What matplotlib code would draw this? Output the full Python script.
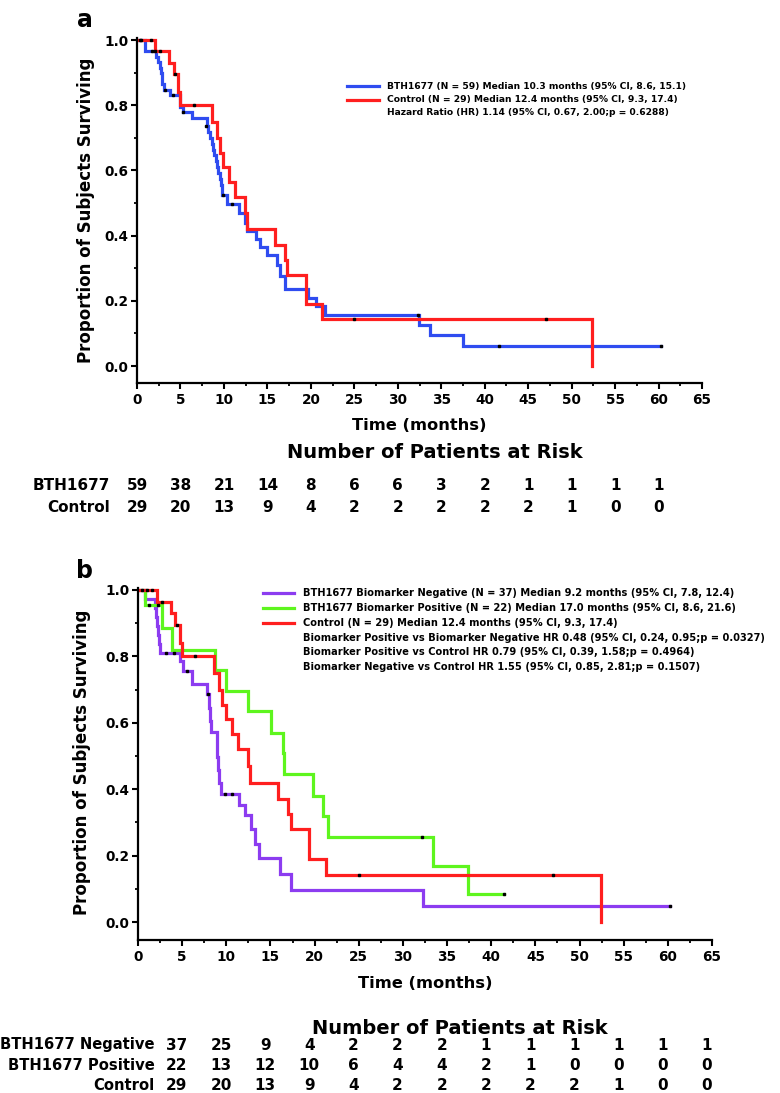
import matplotlib
matplotlib.use("Agg")
import matplotlib.pyplot as plt
import matplotlib.transforms as mtransforms
from matplotlib.ticker import MultipleLocator, FormatStrFormatter

plt.rcParams["font.family"] = ["DejaVu Sans"]
plt.rcParams["font.weight"] = "bold"

# ---- survival curves (months, proportion surviving) ----
all_t = [0, 0.9, 2.2, 2.4, 2.6, 2.75, 2.9, 3.05, 3.8, 5.0, 5.3, 6.3, 8.0, 8.2, 8.4, 8.6,
         8.75, 8.9, 9.05, 9.2, 9.35, 9.5, 9.65, 9.8, 10.3, 11.7, 12.4, 12.6, 13.7, 14.2,
         15.0, 16.1, 16.5, 17.0, 19.7, 20.6, 21.6, 32.4, 33.7, 37.5, 60.3]
all_s = [1.0, 0.966, 0.949, 0.932, 0.915, 0.898, 0.864, 0.847, 0.83, 0.795, 0.778, 0.76,
         0.735, 0.717, 0.70, 0.682, 0.664, 0.646, 0.628, 0.61, 0.592, 0.574, 0.556, 0.525,
         0.497, 0.468, 0.44, 0.413, 0.39, 0.365, 0.34, 0.31, 0.275, 0.235, 0.21, 0.185,
         0.157, 0.126, 0.094, 0.063, 0.063]
all_cens_t = [0.35, 0.5, 1.7, 2.1, 3.2, 4.1, 5.3, 7.9, 9.9, 10.9, 32.3, 41.7, 60.3]
all_cens_s = [1.0, 1.0, 0.966, 0.966, 0.847, 0.83, 0.778, 0.735, 0.525, 0.497, 0.157, 0.063, 0.063]

ctl_t = [0, 2.1, 3.7, 4.2, 4.7, 5.0, 8.6, 9.2, 9.55, 9.95, 10.6, 11.3, 12.4, 12.7,
         15.9, 17.0, 17.3, 19.4, 21.3, 52.4]
ctl_s = [1.0, 0.965, 0.93, 0.895, 0.84, 0.80, 0.75, 0.70, 0.655, 0.61, 0.565, 0.52,
         0.47, 0.42, 0.37, 0.325, 0.28, 0.19, 0.143, 0.0]
ctl_cens_t = [1.6, 2.7, 4.4, 6.5, 25.0, 47.0]
ctl_cens_s = [1.0, 0.965, 0.895, 0.80, 0.143, 0.143]

neg_t = [0, 0.8, 1.9, 2.0, 2.1, 2.25, 2.4, 2.5, 4.75, 5.1, 6.1, 7.8, 8.0, 8.1, 8.3,
         8.9, 9.0, 9.1, 9.2, 9.4, 11.4, 12.1, 12.8, 13.2, 13.65, 16.1, 17.3, 32.3, 60.3]
neg_s = [1.0, 0.973, 0.946, 0.919, 0.892, 0.865, 0.838, 0.811, 0.785, 0.757, 0.717,
         0.687, 0.645, 0.606, 0.571, 0.535, 0.496, 0.457, 0.418, 0.386, 0.354, 0.322,
         0.28, 0.235, 0.193, 0.145, 0.096, 0.048, 0.048]
neg_cens_t = [0.4, 1.0, 3.2, 4.05, 5.5, 7.9, 9.9, 10.7, 60.3]
neg_cens_s = [1.0, 1.0, 0.811, 0.811, 0.757, 0.687, 0.386, 0.386, 0.048]

pos_t = [0, 0.8, 2.7, 3.8, 8.7, 10.0, 12.5, 15.1, 16.4, 16.5, 19.8, 20.9, 21.5, 33.4,
         37.4, 41.4]
pos_s = [1.0, 0.955, 0.886, 0.82, 0.76, 0.697, 0.635, 0.57, 0.508, 0.446, 0.38, 0.32,
         0.255, 0.17, 0.085, 0.085]
pos_cens_t = [1.2, 2.3, 32.2, 41.4]
pos_cens_s = [0.955, 0.955, 0.255, 0.085]

# ---- number at risk tables ----
risk_times = [0, 5, 10, 15, 20, 25, 30, 35, 40, 45, 50, 55, 60]
risk_a = {"BTH1677": [59, 38, 21, 14, 8, 6, 6, 3, 2, 1, 1, 1, 1],
          "Control": [29, 20, 13, 9, 4, 2, 2, 2, 2, 2, 1, 0, 0]}
risk_b = {"BTH1677 Negative": [37, 25, 9, 4, 2, 2, 2, 1, 1, 1, 1, 1, 1],
          "BTH1677 Positive": [22, 13, 12, 10, 6, 4, 4, 2, 1, 0, 0, 0, 0],
          "Control": [29, 20, 13, 9, 4, 2, 2, 2, 2, 2, 1, 0, 0]}

legend_a = ["BTH1677 (N = 59) Median 10.3 months (95% CI, 8.6, 15.1)",
            "Control (N = 29) Median 12.4 months (95% CI, 9.3, 17.4)",
            "Hazard Ratio (HR) 1.14 (95% CI, 0.67, 2.00;p = 0.6288)"]
legend_b = ["BTH1677 Biomarker Negative (N = 37) Median 9.2 months (95% CI, 7.8, 12.4)",
            "BTH1677 Biomarker Positive (N = 22) Median 17.0 months (95% CI, 8.6, 21.6)",
            "Control (N = 29) Median 12.4 months (95% CI, 9.3, 17.4)",
            "Biomarker Positive vs Biomarker Negative HR 0.48 (95% CI, 0.24, 0.95;p = 0.0327)",
            "Biomarker Positive vs Control HR 0.79 (95% CI, 0.39, 1.58;p = 0.4964)",
            "Biomarker Negative vs Control HR 1.55 (95% CI, 0.85, 2.81;p = 0.1507)"]

BLUE, RED, PURPLE, GREEN = "#2f4cf0", "#ff1f1f", "#8c3cf0", "#5ef51e"

W, H = 780, 1093
fig = plt.figure(figsize=(W / 100, H / 100), dpi=100)


def fx(x):
    return x / W


def fy(y):
    return 1 - y / H


def style_axis(ax, ymin):
    ax.set_xlim(0, 65)
    ax.set_ylim(ymin, 1.005)
    for s in ("top", "right"):
        ax.spines[s].set_visible(False)
    for s in ("left", "bottom"):
        ax.spines[s].set_linewidth(1.6)
    ax.xaxis.set_major_locator(MultipleLocator(5))
    ax.xaxis.set_minor_locator(MultipleLocator(2.5))
    ax.yaxis.set_major_locator(MultipleLocator(0.2))
    ax.yaxis.set_minor_locator(MultipleLocator(0.1))
    ax.yaxis.set_major_formatter(FormatStrFormatter("%.1f"))
    ax.tick_params(which="major", length=4.5, width=1.5, labelsize=9.8, pad=1.5)
    ax.tick_params(which="minor", length=2.5, width=1.3)
    ax.tick_params(axis="x", which="major", pad=3)
    for lab in ax.get_xticklabels() + ax.get_yticklabels():
        lab.set_fontweight("bold")


def curve(ax, t, s, ct, cs, color):
    ax.step(t, s, where="post", color=color, lw=2.3, solid_joinstyle="miter", zorder=2)
    ax.plot(ct, cs, "s", color="black", ms=1.9, zorder=3)


# ---------------- panel a ----------------
ax1 = fig.add_axes([fx(137), fy(383), fx(702) - fx(137), fy(38.4) - fy(383)])
curve(ax1, all_t, all_s, all_cens_t, all_cens_s, BLUE)
curve(ax1, ctl_t, ctl_s, ctl_cens_t, ctl_cens_s, RED)
style_axis(ax1, -0.052)
fig.text(fx(85.6), fy(210), "Proportion of Subjects Surviving", rotation=90,
         ha="center", va="center", fontsize=12, fontweight="bold")
fig.text(fx(419), fy(425), "Time (months)", ha="center", va="center",
         fontsize=11.7, fontweight="bold")
fig.text(fx(85), fy(20), "a", ha="center", va="center", fontsize=17, fontweight="bold")

for i, (txt, col) in enumerate(zip(legend_a, [BLUE, RED, None])):
    y = [86, 99.5, 112.7][i]
    if col:
        fig.add_artist(plt.Line2D([fx(347), fx(379)], [fy(y), fy(y)], color=col, lw=2.3))
    fig.text(fx(387), fy(y), txt, ha="left", va="center", fontsize=6.6, fontweight="bold")

fig.text(fx(435), fy(452.5), "Number of Patients at Risk", ha="center", va="center",
         fontsize=14, fontweight="bold")
tr_a = mtransforms.blended_transform_factory(ax1.transData, fig.transFigure)
for (name, vals), y in zip(risk_a.items(), [486, 507]):
    fig.text(fx(110.5), fy(y), name, ha="right", va="center", fontsize=11, fontweight="bold")
    for t, v in zip(risk_times, vals):
        ax1.text(t, fy(y), str(v), transform=tr_a, ha="center", va="center",
                 fontsize=11, fontweight="bold", clip_on=False)

# ---------------- panel b ----------------
ax2 = fig.add_axes([fx(138), fy(940), fx(712) - fx(138), fy(588.3) - fy(940)])
curve(ax2, neg_t, neg_s, neg_cens_t, neg_cens_s, PURPLE)
curve(ax2, pos_t, pos_s, pos_cens_t, pos_cens_s, GREEN)
curve(ax2, ctl_t, ctl_s, ctl_cens_t, ctl_cens_s, RED)
style_axis(ax2, -0.054)
fig.text(fx(82), fy(762), "Proportion of Subjects Surviving", rotation=90,
         ha="center", va="center", fontsize=12, fontweight="bold")
fig.text(fx(425), fy(983), "Time (months)", ha="center", va="center",
         fontsize=11.7, fontweight="bold")
fig.text(fx(85), fy(571), "b", ha="center", va="center", fontsize=17, fontweight="bold")

for i, txt in enumerate(legend_b):
    y = [593.3, 608.3, 622.7, 637.7, 652, 666.7][i]
    if i < 3:
        col = [PURPLE, GREEN, RED][i]
        fig.add_artist(plt.Line2D([fx(263), fx(294)], [fy(y), fy(y)], color=col, lw=2.3))
    fig.text(fx(303), fy(y), txt, ha="left", va="center", fontsize=7.1, fontweight="bold")

fig.text(fx(460), fy(1029), "Number of Patients at Risk", ha="center", va="center",
         fontsize=14, fontweight="bold")
tr_b = mtransforms.blended_transform_factory(ax2.transData, fig.transFigure)
shift_b = 4.4  # the table under panel b sits offset from the axis ticks
for (name, vals), y in zip(risk_b.items(), [1045, 1066, 1085]):
    fig.text(fx(155), fy(y), name, ha="right", va="center", fontsize=10.6, fontweight="bold")
    for t, v in zip(risk_times, vals):
        ax2.text(t + shift_b, fy(y), str(v), transform=tr_b, ha="center", va="center",
                 fontsize=11, fontweight="bold", clip_on=False)

fig.savefig("out.png", dpi=100)
plt.close(fig)
